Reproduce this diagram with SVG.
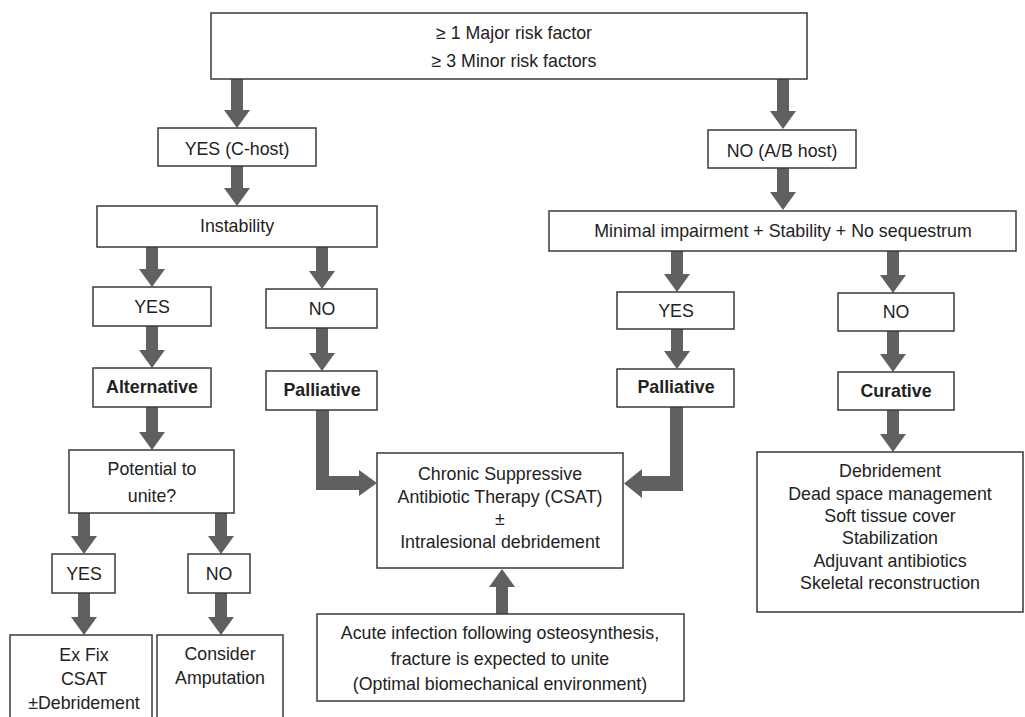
<svg xmlns="http://www.w3.org/2000/svg" width="1025" height="717" viewBox="0 0 1025 717">
<style>
.box{fill:#fff;stroke:#3a3a3a;stroke-width:1.5}
.t{font-family:"Liberation Sans",Arial,sans-serif;font-size:17.8px;fill:#222;text-anchor:middle}
.b{font-weight:bold}
.arr{fill:#606060;stroke:none}
</style>
<rect width="1025" height="717" fill="#fff"/>
<g id="connectors">
<polygon class="arr" points="231,79 243,79 243,110 250,110 237,128 224,110 231,110"/>
<polygon class="arr" points="777,79 789,79 789,111 796,111 783,129 770,111 777,111"/>
<polygon class="arr" points="231,166 243,166 243,188 250,188 237,206 224,188 231,188"/>
<polygon class="arr" points="777,168 789,168 789,192 796,192 783,210 770,192 777,192"/>
<polygon class="arr" points="146,247 158,247 158,269 165,269 152,287 139,269 146,269"/>
<polygon class="arr" points="316,247 328,247 328,271 335,271 322,289 309,271 316,271"/>
<polygon class="arr" points="146,326 158,326 158,350 165,350 152,368 139,350 146,350"/>
<polygon class="arr" points="316,328 328,328 328,353 335,353 322,371 309,353 316,353"/>
<polygon class="arr" points="671,251 683,251 683,274 690,274 677,292 664,274 671,274"/>
<polygon class="arr" points="887,251 899,251 899,275 906,275 893,293 880,275 887,275"/>
<polygon class="arr" points="671,329 683,329 683,351 690,351 677,369 664,351 671,351"/>
<polygon class="arr" points="887,331 899,331 899,354 906,354 893,372 880,354 887,354"/>
<polygon class="arr" points="146,407 158,407 158,432 165,432 152,450 139,432 146,432"/>
<polygon class="arr" points="78,513 90,513 90,536 97,536 84,554 71,536 78,536"/>
<polygon class="arr" points="215,513 227,513 227,536 234,536 221,554 208,536 215,536"/>
<polygon class="arr" points="78,593 90,593 90,617 97,617 84,635 71,617 78,617"/>
<polygon class="arr" points="215,593 227,593 227,617 234,617 221,635 208,617 215,617"/>
<polygon class="arr" points="887,410 899,410 899,434 906,434 893,452 880,434 887,434"/>
<polygon class="arr" points="496,614 508,614 508,587 515,587 502,569 489,587 496,587"/>
<polygon class="arr" points="316,410 329,410 329,476 359,476 359,470 377,483 359,496 359,490 316,490"/>
<polygon class="arr" points="670,407 683,407 683,491 642,491 642,498 624,483.5 642,469 642,476 670,476"/>
</g>
<g id="top"><rect class="box" x="211" y="13" width="596" height="66"/>
<text class="t" x="514" y="39">≥ 1 Major risk factor</text>
<text class="t" x="514" y="67">≥ 3 Minor risk factors</text></g>
<g id="yesC"><rect class="box" x="158" y="128" width="158" height="38"/><text class="t" x="237" y="155">YES (C-host)</text></g>
<g id="noAB"><rect class="box" x="708" y="130" width="148" height="38"/><text class="t" x="782" y="157">NO (A/B host)</text></g>
<g id="instability"><rect class="box" x="97" y="206" width="280" height="41"/><text class="t" x="237" y="232">Instability</text></g>
<g id="minimal"><rect class="box" x="549" y="211" width="467" height="40"/><text class="t" x="783" y="237">Minimal impairment + Stability + No sequestrum</text></g>
<g id="yes1"><rect class="box" x="93" y="287" width="118" height="39"/><text class="t" x="152" y="313">YES</text></g>
<g id="no1"><rect class="box" x="266" y="289" width="111" height="39"/><text class="t" x="322" y="315">NO</text></g>
<g id="alternative"><rect class="box" x="93" y="368" width="118" height="39"/><text class="t b" x="152" y="393">Alternative</text></g>
<g id="palliative1"><rect class="box" x="266" y="371" width="111" height="39"/><text class="t b" x="322" y="396">Palliative</text></g>
<g id="yes2"><rect class="box" x="617" y="292" width="117" height="37"/><text class="t" x="676" y="317">YES</text></g>
<g id="no2"><rect class="box" x="838" y="293" width="116" height="38"/><text class="t" x="896" y="318">NO</text></g>
<g id="palliative2"><rect class="box" x="617" y="369" width="117" height="38"/><text class="t b" x="676" y="393">Palliative</text></g>
<g id="curative"><rect class="box" x="838" y="372" width="116" height="38"/><text class="t b" x="896" y="397">Curative</text></g>
<g id="potential"><rect class="box" x="69" y="450" width="165" height="63"/>
<text class="t" x="152" y="475">Potential to</text><text class="t" x="152" y="502">unite?</text></g>
<g id="yes3"><rect class="box" x="52" y="554" width="63" height="39"/><text class="t" x="84" y="580">YES</text></g>
<g id="no3"><rect class="box" x="188" y="554" width="62" height="39"/><text class="t" x="219" y="580">NO</text></g>
<g id="exfix"><rect class="box" x="10" y="635" width="142" height="100"/>
<text class="t" x="84" y="661">Ex Fix</text><text class="t" x="84" y="685">CSAT</text><text class="t" x="84" y="709">±Debridement</text></g>
<g id="amputation"><rect class="box" x="157" y="635" width="126" height="100"/>
<text class="t" x="220" y="660">Consider</text><text class="t" x="220" y="684">Amputation</text></g>
<g id="csat"><rect class="box" x="377" y="453" width="246" height="115"/>
<text class="t" x="500" y="480">Chronic Suppressive</text>
<text class="t" x="500" y="503">Antibiotic Therapy (CSAT)</text>
<text class="t" x="500" y="525">±</text>
<text class="t" x="500" y="548">Intralesional debridement</text></g>
<g id="acute"><rect class="box" x="317" y="614" width="367" height="87"/>
<text class="t" x="500" y="639">Acute infection following osteosynthesis,</text>
<text class="t" x="500" y="665">fracture is expected to unite</text>
<text class="t" x="500" y="690">(Optimal biomechanical environment)</text></g>
<g id="curative-steps"><rect class="box" x="757" y="452" width="266" height="160"/>
<text class="t" x="890" y="477">Debridement</text>
<text class="t" x="890" y="500">Dead space management</text>
<text class="t" x="890" y="522">Soft tissue cover</text>
<text class="t" x="890" y="544">Stabilization</text>
<text class="t" x="890" y="567">Adjuvant antibiotics</text>
<text class="t" x="890" y="589">Skeletal reconstruction</text></g>
</svg>
